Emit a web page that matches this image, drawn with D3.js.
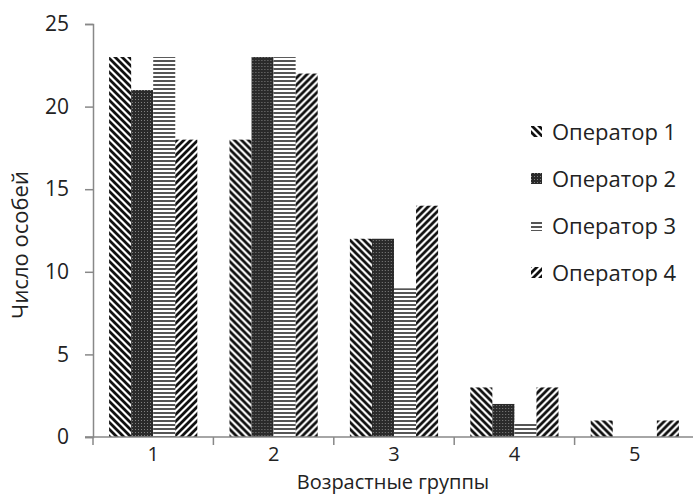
<!DOCTYPE html>
<html lang="ru">
<head>
    <meta charset="UTF-8">
    <title>Возрастные группы</title>
    <script src="https://cdnjs.cloudflare.com/ajax/libs/d3/7.8.5/d3.min.js"></script>
    <style>
        body { margin: 0; background: #fff; }
        text { font-family: "Open Sans", "Noto Sans", sans-serif; fill: #222; }
    </style>
</head>
<body>
    <script>
        // Data
        var groups = ["1", "2", "3", "4", "5"];
        var operators = ["Оператор 1", "Оператор 2", "Оператор 3", "Оператор 4"];
        var values = [
            [23, 21, 23, 18],
            [18, 23, 23, 22],
            [12, 12, 9, 14],
            [3, 2, 0.9, 3],
            [1, 0, 0, 1]
        ];
        var yTicks = [0, 5, 10, 15, 20, 25];

        var width = 693, height = 495;
        var plotLeft = 93, plotTop = 24, plotBottom = 437;

        var svg = d3.select("body")
            .append("svg")
            .attr("width", width)
            .attr("height", height);

        // Fill patterns
        var defs = svg.append("defs");
        // Оператор 1: "\" hatching
        var p1 = defs.append("pattern").attr("id", "p1")
            .attr("patternUnits", "userSpaceOnUse")
            .attr("width", 7).attr("height", 7);
        p1.append("path").attr("d", "M-2,-2 L9,9 M-2,5 L2,9 M5,-2 L9,2")
            .attr("stroke", "#111").attr("stroke-width", 2.8);
        // Оператор 2: dark fine grid
        var p2 = defs.append("pattern").attr("id", "p2")
            .attr("patternUnits", "userSpaceOnUse")
            .attr("width", 3).attr("height", 3);
        p2.append("rect").attr("width", 3).attr("height", 3).attr("fill", "#2a2a2a");
        p2.append("rect").attr("width", 1).attr("height", 1).attr("fill", "#808080");
        // Оператор 3: horizontal lines
        var p3 = defs.append("pattern").attr("id", "p3")
            .attr("patternUnits", "userSpaceOnUse")
            .attr("width", 4).attr("height", 4);
        p3.append("rect").attr("width", 4).attr("height", 4).attr("fill", "#fff");
        p3.append("rect").attr("y", 0).attr("width", 4).attr("height", 2).attr("fill", "#555");
        // Оператор 4: "/" hatching
        var p4 = defs.append("pattern").attr("id", "p4")
            .attr("patternUnits", "userSpaceOnUse")
            .attr("width", 7).attr("height", 7);
        p4.append("path").attr("d", "M-2,9 L9,-2 M-2,2 L2,-2 M5,9 L9,5")
            .attr("stroke", "#111").attr("stroke-width", 2.8);
        var fills = ["url(#p1)", "url(#p2)", "url(#p3)", "url(#p4)"];

        // Scales
        var x = d3.scaleBand().domain(groups).range([plotLeft, plotLeft + 602]).padding(0);
        var xs = d3.scaleBand().domain(d3.range(operators.length))
            .range([0, x.bandwidth()]).paddingOuter(0.73).paddingInner(0);
        var y = d3.scaleLinear().domain([0, 25]).range([plotBottom, plotTop]);

        // Bars
        var g = svg.selectAll("g.group")
            .data(values)
            .enter()
            .append("g")
            .attr("class", "group")
            .attr("transform", function(d, i) { return "translate(" + x(groups[i]) + ",0)"; });
        g.selectAll("rect")
            .data(function(d) { return d; })
            .enter()
            .append("rect")
            .attr("x", function(d, j) { return xs(j); })
            .attr("width", xs.bandwidth())
            .attr("y", function(d) { return y(d); })
            .attr("height", function(d) { return plotBottom - y(d); })
            .attr("fill", function(d, j) { return fills[j]; });

        // Y axis
        var yAxis = svg.append("g")
            .attr("transform", "translate(" + plotLeft + ",0)")
            .call(d3.axisLeft(y).tickValues(yTicks).tickSize(8).tickPadding(16));
        yAxis.select(".domain").attr("stroke", "#888").attr("stroke-width", 1.5);
        yAxis.selectAll(".tick line").attr("stroke", "#888").attr("stroke-width", 1.5);
        yAxis.selectAll(".tick text").style("font-size", "21px").attr("fill", "#222");

        // X axis: labels at centres, ticks at group boundaries
        var xAxis = svg.append("g")
            .attr("transform", "translate(0," + plotBottom + ")")
            .call(d3.axisBottom(x).tickSize(0).tickPadding(10));
        xAxis.select(".domain").remove();
        xAxis.selectAll(".tick text").style("font-size", "20px").attr("fill", "#222");
        xAxis.append("line")
            .attr("x1", plotLeft - 8).attr("x2", width)
            .attr("stroke", "#888").attr("stroke-width", 1.5);
        xAxis.selectAll("line.bound")
            .data(groups.concat(["end"]))
            .enter()
            .append("line")
            .attr("class", "bound")
            .attr("x1", function(d, i) { return plotLeft + i * x.step(); })
            .attr("x2", function(d, i) { return plotLeft + i * x.step(); })
            .attr("y1", 0).attr("y2", 8)
            .attr("stroke", "#888").attr("stroke-width", 1.5);

        // Axis titles
        svg.append("text")
            .attr("x", 393).attr("y", 489)
            .attr("text-anchor", "middle")
            .style("font-size", "20px")
            .text("Возрастные группы");
        svg.append("text")
            .attr("transform", "translate(28,245) rotate(-90)")
            .attr("text-anchor", "middle")
            .style("font-size", "22px")
            .text("Число особей");

        // Legend
        var legend = svg.selectAll("g.legend")
            .data(operators)
            .enter()
            .append("g")
            .attr("class", "legend")
            .attr("transform", function(d, i) { return "translate(531," + (132 + i * 47) + ")"; });
        legend.append("rect")
            .attr("x", 0).attr("y", -6)
            .attr("width", 11).attr("height", 11)
            .attr("fill", function(d, i) { return fills[i]; });
        legend.append("text")
            .attr("x", 21).attr("y", 8)
            .style("font-size", "22px")
            .text(function(d) { return d; });
    </script>
</body>
</html>
